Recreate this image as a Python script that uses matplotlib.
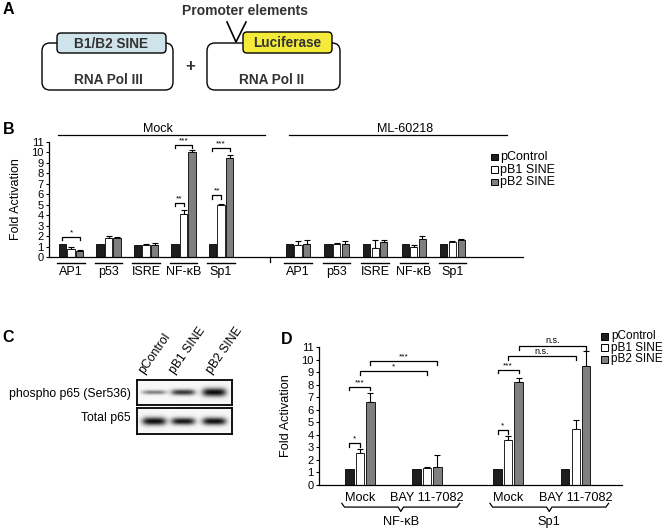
import numpy as np
import matplotlib
matplotlib.use('Agg')
import matplotlib.pyplot as plt
from matplotlib.patches import FancyBboxPatch, Rectangle

plt.rcParams['font.family'] = ['Liberation Sans', 'DejaVu Sans']

# ===== Data =====
series = ["pControl", "pB1 SINE", "pB2 SINE"]
colors = ["#1e1e1e", "white", "#7f7f7f"]

# Panel B
groups_b = ["AP1", "p53", "ISRE", "NF-κB", "Sp1"]
mock_ctrl = [1.25, 1.25, 1.15, 1.25, 1.25]
mock_b1 = [0.8, 1.8, 1.1, 4.15, 4.95]
mock_b1_err = [0.15, 0.25, 0.1, 0.35, 0.15]
mock_b2 = [0.6, 1.85, 1.15, 10.0, 9.45]
mock_b2_err = [0.05, 0.1, 0.15, 0.2, 0.3]
ml_ctrl = [1.25, 1.25, 1.25, 1.25, 1.25]
ml_b1 = [1.15, 1.2, 0.85, 0.95, 1.4]
ml_b1_err = [0.4, 0.1, 0.75, 0.15, 0.15]
ml_b2 = [1.25, 1.25, 1.45, 1.75, 1.6]
ml_b2_err = [0.4, 0.25, 0.2, 0.25, 0.15]

# Panel D
groups_d = ["Mock", "BAY 11-7082", "Mock", "BAY 11-7082"]
reporters_d = ["NF-κB", "Sp1"]
d_ctrl = [1.25, 1.25, 1.25, 1.25]
d_b1 = [2.55, 1.35, 3.6, 4.5]
d_b1_err = [0.3, 0.1, 0.3, 0.7]
d_b2 = [6.65, 1.45, 8.2, 9.45]
d_b2_err = [0.65, 0.95, 0.35, 1.2]

# Panel C blot
lanes = ["pControl", "pB1 SINE", "pB2 SINE"]
phospho_level = [0.5, 0.8, 0.98]
phospho_thick = [2.0, 2.8, 4.0]
total_level = [0.97, 0.93, 0.96]
total_thick = [3.8, 3.4, 3.6]

W, H = 671, 532
fig = plt.figure(figsize=(W / 100, H / 100), dpi=100)


def px_axes(x0, y0, x1, y1):
    return fig.add_axes([x0 / W, 1 - y1 / H, (x1 - x0) / W, (y1 - y0) / H])


def bracket(ax, x1, x2, y, h, label, fs=6):
    ax.plot([x1, x1, x2, x2], [y - h, y, y, y - h], color='black', lw=0.9, clip_on=False)
    ax.text((x1 + x2) / 2, y + 0.05, label, ha='center', va='bottom', fontsize=fs, clip_on=False)


def draw_bars(ax, pos, vals, errs, off, width):
    pos = np.asarray(pos, dtype=float)
    for k, (v, e) in enumerate(zip(vals, errs)):
        x = pos + off[k]
        ax.bar(x, v, width=width, color=colors[k], edgecolor='black', linewidth=0.6, zorder=2)
        if e is not None:
            ax.errorbar(x, v, yerr=[np.zeros(len(e)), e], fmt='none', ecolor='black',
                        elinewidth=0.8, capsize=2, capthick=0.8, zorder=1)


def style_axis(ax):
    for s in ['top', 'right']:
        ax.spines[s].set_visible(False)
    ax.spines['left'].set_linewidth(0.9)
    ax.spines['bottom'].set_linewidth(0.9)
    ax.set_ylim(0, 11)
    ax.set_yticks(range(12))
    ax.tick_params(axis='y', length=2.5, width=0.8, pad=1.5, labelsize=8)
    ax.tick_params(axis='x', length=0)
    ax.set_facecolor('none')


# ===== Overlay (schematic, labels, legends) =====
ov = fig.add_axes([0, 0, 1, 1])
ov.set_xlim(0, W)
ov.set_ylim(H, 0)
ov.axis('off')


def legend_at(x, y0, dy, size, fs):
    for k, (lab, c) in enumerate(zip(series, colors)):
        y = y0 + k * dy
        ov.add_patch(Rectangle((x, y - size / 2), size, size, fc=c, ec='black', lw=0.7))
        ov.text(x + size + 3, y, lab, ha='left', va='center', fontsize=fs)


# ===== Panel A =====
txt = '#333333'
ov.add_patch(FancyBboxPatch((42, 43), 131, 47, boxstyle="round,pad=0,rounding_size=8",
                            fc='white', ec='black', lw=1))
ov.add_patch(FancyBboxPatch((57, 33), 109, 20, boxstyle="round,pad=0,rounding_size=4",
                            fc='#cfe3ea', ec='black', lw=1))
ov.text(111, 43.5, "B1/B2 SINE", ha='center', va='center', fontsize=9.8, fontweight='bold', color=txt)
ov.text(108, 80, "RNA Pol III", ha='center', va='center', fontsize=9.8, fontweight='bold', color=txt)
ov.text(190, 66, "+", ha='center', va='center', fontsize=12, fontweight='bold', color=txt)

ov.add_patch(FancyBboxPatch((207, 43), 133, 47, boxstyle="round,pad=0,rounding_size=8",
                            fc='white', ec='black', lw=1))
ov.add_patch(FancyBboxPatch((243, 32), 89, 21, boxstyle="round,pad=0,rounding_size=4",
                            fc='#f4ea3a', ec='black', lw=1))
ov.plot([227, 236, 246], [22, 42, 22], color='black', lw=1.2)
ov.text(287, 43, "Luciferase", ha='center', va='center', fontsize=9.8, fontweight='bold', color=txt)
ov.text(272, 80, "RNA Pol II", ha='center', va='center', fontsize=9.8, fontweight='bold', color=txt)
ov.text(245, 11, "Promoter elements", ha='center', va='center', fontsize=10, fontweight='bold', color=txt)

for letter, (lx, ly) in zip("ABCD", [(8, 10), (9, 129), (8, 338), (287, 339)]):
    ov.text(lx, ly, letter, ha='center', va='center', fontsize=11.5, fontweight='bold')

# ===== Panel B =====
axB = px_axes(49, 142, 523, 257)
style_axis(axB)
axB.set_xlim(-0.587, 12.05)
axB.set_xticks([])
pos_mock = np.arange(5)
pos_ml = 6.05 + np.arange(5) * 1.03
off_b = [-0.23, 0.0, 0.23]
draw_bars(axB, pos_mock, [mock_ctrl, mock_b1, mock_b2], [None, mock_b1_err, mock_b2_err], off_b, 0.2)
draw_bars(axB, pos_ml, [ml_ctrl, ml_b1, ml_b2], [None, ml_b1_err, ml_b2_err], off_b, 0.19)
axB.set_ylabel("Fold Activation", fontsize=9)
axB.yaxis.set_label_coords(-0.057, 0.5)

for p, g in zip(list(pos_mock) + list(pos_ml), groups_b * 2):
    axB.plot([p - 0.37, p + 0.37], [-0.57, -0.57], color='black', lw=1, clip_on=False)
    axB.text(p, -1.45, g, ha='center', va='center', fontsize=9, clip_on=False)
axB.plot([5.31, 5.31], [0, -0.45], color='black', lw=0.9, clip_on=False)

axB.plot([-0.35, 5.17], [11.67, 11.67], color='black', lw=0.9, clip_on=False)
axB.text(2.32, 12.25, "Mock", ha='center', va='center', fontsize=9, clip_on=False)
axB.plot([5.81, 11.63], [11.67, 11.67], color='black', lw=0.9, clip_on=False)
axB.text(8.9, 12.25, "ML-60218", ha='center', va='center', fontsize=9, clip_on=False)

bracket(axB, pos_mock[0] + off_b[0], pos_mock[0] + off_b[2], 1.9, 0.3, "*")
bracket(axB, pos_mock[3] + off_b[0], pos_mock[3] + off_b[1], 5.2, 0.35, "**")
bracket(axB, pos_mock[3] + off_b[0], pos_mock[3] + off_b[2], 10.7, 0.3, "***")
bracket(axB, pos_mock[4] + off_b[0], pos_mock[4] + off_b[1], 5.9, 0.35, "**")
bracket(axB, pos_mock[4] + off_b[0], pos_mock[4] + off_b[2], 10.4, 0.3, "***")

legend_at(491, 157, 12.5, 6.5, 9)


# ===== Panel C (western blot) =====
def blot(ax, level, thick):
    h, w = 50, 190
    yy, xx = np.mgrid[0:h, 0:w]
    img = np.full((h, w), 0.97)
    for c, lv, th in zip([34, 92, 154], level, thick):
        shape = np.exp(-((xx - c) / 24.0) ** 4) * np.exp(-((yy - h / 2) / (th * 2)) ** 2)
        img -= lv * shape * 0.95
    ax.imshow(np.clip(img, 0, 1), cmap='gray', vmin=0, vmax=1, aspect='auto', interpolation='bilinear')
    ax.set_xticks([])
    ax.set_yticks([])
    for s in ax.spines.values():
        s.set_linewidth(1.3)


axC1 = px_axes(137, 380, 232, 405)
blot(axC1, phospho_level, phospho_thick)
axC2 = px_axes(137, 408, 232, 434)
blot(axC2, total_level, total_thick)
ov.text(131, 394, "phospho p65 (Ser536)", ha='right', va='center', fontsize=8.8)
ov.text(131, 418, "Total p65", ha='right', va='center', fontsize=8.8)
for lx, lab in zip([146, 177, 214], lanes):
    ov.text(lx, 376, lab, rotation=55, rotation_mode='anchor', ha='left', va='bottom', fontsize=8.8)

# ===== Panel D =====
axD = px_axes(319, 347, 622, 485)
style_axis(axD)
axD.set_xlim(-0.61, 3.91)
pos_d = np.array([0, 1, 2.21, 3.22])
off_d = [-0.157, 0.0, 0.157]
draw_bars(axD, pos_d, [d_ctrl, d_b1, d_b2], [None, d_b1_err, d_b2_err], off_d, 0.125)
axD.set_xticks(pos_d)
axD.set_xticklabels(groups_d, fontsize=9.2)
axD.tick_params(axis='x', pad=5)
axD.set_ylabel("Fold Activation", fontsize=9.2)
axD.yaxis.set_label_coords(-0.089, 0.5)

for k, rep in enumerate(reporters_d):
    a, b = pos_d[2 * k] - 0.27, pos_d[2 * k + 1] + 0.49
    m = (a + b) / 2
    yb = -1.76
    axD.plot([a, a + 0.04, m - 0.04, m, m + 0.04, b - 0.04, b],
             [yb + 0.3, yb, yb, yb - 0.35, yb, yb, yb + 0.3], color='black', lw=0.9, clip_on=False)
    axD.text(m, -2.95, rep, ha='center', va='center', fontsize=9.2, clip_on=False)

bracket(axD, pos_d[0] + off_d[0], pos_d[0] + off_d[1], 3.35, 0.3, "*")
bracket(axD, pos_d[0] + off_d[0], pos_d[0] + off_d[2], 7.85, 0.3, "***")
bracket(axD, pos_d[0] + off_d[1], pos_d[1] + off_d[1], 9.05, 0.3, "*")
bracket(axD, pos_d[0] + off_d[2], pos_d[1] + off_d[2], 9.85, 0.3, "***")
bracket(axD, pos_d[2] + off_d[0], pos_d[2] + off_d[1], 4.4, 0.3, "*")
bracket(axD, pos_d[2] + off_d[0], pos_d[2] + off_d[2], 9.2, 0.3, "***")
bracket(axD, pos_d[2] + off_d[1], pos_d[3] + off_d[1], 10.25, 0.3, "n.s.", fs=6.5)
bracket(axD, pos_d[2] + off_d[2], pos_d[3] + off_d[2], 11.1, 0.3, "n.s.", fs=6.5)

legend_at(601, 336, 11.5, 7, 8.5)

fig.savefig("out.png", dpi=100)
